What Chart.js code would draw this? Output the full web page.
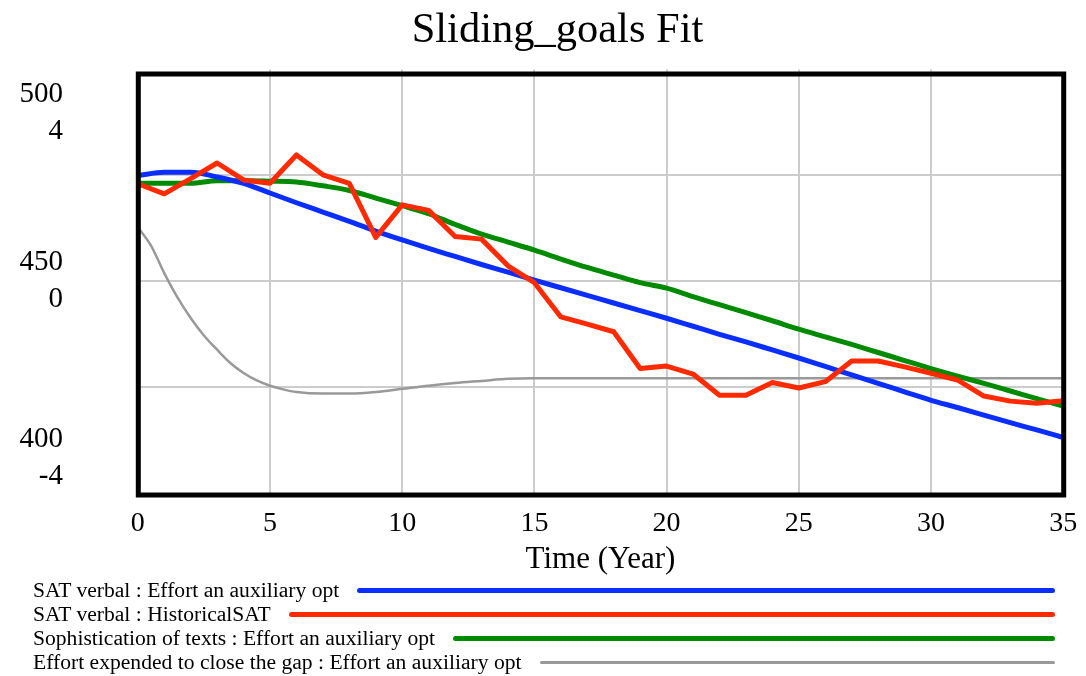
<!DOCTYPE html>
<html>
<head>
<meta charset="utf-8">
<title>Sliding_goals Fit</title>
<script src="https://cdn.jsdelivr.net/npm/chart.js@4/dist/chart.umd.min.js"></script>
<style>
  html, body { margin: 0; padding: 0; background: #ffffff; }
  body { width: 1086px; height: 676px; position: relative; overflow: hidden; }
  #wrap { position: absolute; left: 0; top: 0; width: 1086px; height: 580px; }
  #legend { position: absolute; left: 33px; top: 578px; width: 1022px; }
  .row { display: flex; align-items: center; height: 24px; font-family: "Liberation Serif", "Times New Roman", serif; font-size: 21.6px; color: #000; white-space: nowrap; }
  .row .swatch { flex: 1; margin-left: 18px; border-radius: 3px; }
</style>
</head>
<body>
<div id="wrap"><canvas id="chart" width="1086" height="580"></canvas></div>
<div id="legend"></div>
<script>
// Simulation time axis (years)
const years = [0, 1, 2, 3, 4, 5, 6, 7, 8, 9, 10, 11, 12, 13, 14, 15, 16, 17,
               18, 19, 20, 21, 22, 23, 24, 25, 26, 27, 28, 29, 30, 31, 32, 33, 34, 35];

// SAT verbal : Effort an auxiliary opt
const satVerbalEffort = [474.9, 475.7, 475.7, 474.6, 473.1, 470.8, 468.5, 466.3, 464.1, 461.8,
                         459.7, 457.7, 455.8, 453.9, 452.1, 450.2, 448.4, 446.6, 444.8, 443.0,
                         441.2, 439.3, 437.4, 435.6, 433.7, 431.8, 429.8, 427.8, 425.8, 423.8,
                         421.8, 420.1, 418.3, 416.5, 414.8, 413.0];

// SAT verbal : HistoricalSAT
const satVerbalHistorical = [473.0, 470.6, 474.2, 477.9, 473.9, 473.1, 479.8, 475.1, 473.1, 460.3,
                             468.0, 466.7, 460.5, 459.9, 453.6, 449.6, 441.5, 439.8, 438.0, 429.3,
                             429.9, 428.0, 423.0, 423.0, 426.0, 424.7, 426.2, 431.1, 431.1, 429.7,
                             428.2, 426.6, 422.8, 421.6, 421.1, 421.7];

// Sophistication of texts : Effort an auxiliary opt
const sophistication = [473.1, 473.1, 473.1, 473.7, 473.7, 473.6, 473.4, 472.5, 471.4, 469.6,
                        467.8, 465.9, 463.4, 461.1, 459.2, 457.3, 455.2, 453.2, 451.4, 449.6,
                        448.3, 446.3, 444.4, 442.5, 440.6, 438.6, 436.8, 435.0, 433.1, 431.2,
                        429.3, 427.5, 425.8, 424.0, 422.2, 420.4];

// Effort expended to close the gap : Effort an auxiliary opt (finer steps early on)
const effortTimes = [0, 0.5, 1, 1.5, 2, 2.5, 3, 3.5, 4, 4.5, 5, 5.5, 6, 7, 8, 9, 10, 11, 12, 13,
                     14, 15, 16, 17, 18, 19, 20, 21, 22, 23, 24, 25, 26, 27, 28, 29, 30, 31,
                     32, 33, 34, 35];
const effortGap = [1.02, 0.67, 0.15, -0.31, -0.70, -1.03, -1.30, -1.55, -1.74, -1.88, -1.98, -2.05,
                   -2.10, -2.13, -2.13, -2.10, -2.04, -1.98, -1.93, -1.89, -1.85, -1.84, -1.84,
                   -1.84, -1.84, -1.84, -1.84, -1.84, -1.84, -1.84, -1.84, -1.84, -1.84, -1.84,
                   -1.84, -1.84, -1.84, -1.84, -1.84, -1.84, -1.84, -1.84];

// Stacked left-axis labels: SAT scale over effort scale
const satTicks = [500, 450, 400];
const effortTicks = [4, 0, -4];

const seriesNames = [
  'SAT verbal : Effort an auxiliary opt',
  'SAT verbal : HistoricalSAT',
  'Sophistication of texts : Effort an auxiliary opt',
  'Effort expended to close the gap : Effort an auxiliary opt'
];

const BLUE = '#0a2eff', RED = '#ff2a00', GREEN = '#008a00', GRAY = '#999999', GRID = '#cccccc';
const SERIF = '"Liberation Serif", "Times New Roman", serif';

const pts = (xs, ys) => xs.map((x, i) => ({ x, y: ys[i] }));

// Inner grid lines only; the frame covers the outer ones
const innerGrid = (min, max) => (ctx) =>
  (ctx.tick && (ctx.tick.value === min || ctx.tick.value === max)) ? 'rgba(0,0,0,0)' : GRID;

// Frame and stacked dual-scale labels on the left
const framePlugin = {
  id: 'frame',
  afterDatasetsDraw(chart) {
    const { ctx, chartArea: a } = chart;
    ctx.save();
    ctx.strokeStyle = '#000';
    ctx.lineWidth = 5;
    ctx.strokeRect(a.left + 0.5, a.top + 4.5, a.right - a.left, a.bottom - a.top - 2);
    ctx.restore();
  },
  afterDraw(chart) {
    const { ctx, chartArea: a, scales } = chart;
    ctx.save();
    ctx.fillStyle = '#000';
    ctx.font = '29px ' + SERIF;
    ctx.textAlign = 'right';
    ctx.textBaseline = 'middle';
    satTicks.forEach((v, i) => {
      let c = scales.y.getPixelForValue(v);
      c = Math.min(Math.max(c, a.top + 43), a.bottom - 35);
      ctx.fillText(String(v), 63, c - 18.5);
      ctx.fillText(String(effortTicks[i]), 63, c + 18.5);
    });
    ctx.restore();
  }
};

new Chart(document.getElementById('chart'), {
  type: 'line',
  data: {
    datasets: [
      { label: seriesNames[3], data: pts(effortTimes, effortGap), yAxisID: 'y2',
        borderColor: GRAY, borderWidth: 2.5, cubicInterpolationMode: 'monotone', order: 4 },
      { label: seriesNames[2], data: pts(years, sophistication), yAxisID: 'y',
        borderColor: GREEN, borderWidth: 5, cubicInterpolationMode: 'monotone', order: 3 },
      { label: seriesNames[0], data: pts(years, satVerbalEffort), yAxisID: 'y',
        borderColor: BLUE, borderWidth: 5, cubicInterpolationMode: 'monotone', order: 2 },
      { label: seriesNames[1], data: pts(years, satVerbalHistorical), yAxisID: 'y',
        borderColor: RED, borderWidth: 5, order: 1 }
    ]
  },
  options: {
    responsive: false,
    animation: false,
    events: [],
    elements: { point: { radius: 0 }, line: { tension: 0, borderJoinStyle: 'round', borderCapStyle: 'round' } },
    layout: { padding: { left: 29, right: 0, top: 0, bottom: 0 } },
    plugins: {
      legend: { display: false },
      tooltip: { enabled: false },
      title: {
        display: true,
        text: 'Sliding_goals Fit',
        color: '#000',
        font: { family: SERIF, size: 42.5, weight: 'normal', lineHeight: 1.2 },
        padding: { top: 5, bottom: 13.5 }
      }
    },
    scales: {
      x: {
        type: 'linear', min: 0, max: 35,
        afterFit: (s) => { s.height = 87.5; s.paddingLeft = 0; s.paddingRight = 0; },
        ticks: { stepSize: 5, color: '#000', padding: 14, font: { family: SERIF, size: 28 } },
        grid: { color: innerGrid(0, 35), lineWidth: 2, drawTicks: false },
        border: { display: false },
        title: { display: true, text: 'Time (Year)', color: '#000', padding: { top: 0, bottom: 2 },
                 font: { family: SERIF, size: 31 } }
      },
      y: {
        position: 'left', min: 400, max: 500,
        afterFit: (s) => { s.width = 108.8; },
        ticks: { stepSize: 25, display: false },
        grid: { color: innerGrid(400, 500), lineWidth: 2, drawTicks: false },
        border: { display: false }
      },
      y2: {
        position: 'right', min: -4, max: 4, display: true,
        afterFit: (s) => { s.width = 22.8; },
        ticks: { display: false },
        grid: { display: false, drawTicks: false },
        border: { display: false }
      }
    }
  },
  plugins: [framePlugin]
});

// Legend rows below the plot
const legendColors = [BLUE, RED, GREEN, GRAY];
const legendWidths = [5, 5, 5, 3];
const legend = document.getElementById('legend');
seriesNames.forEach((name, i) => {
  const row = document.createElement('div');
  row.className = 'row';
  const label = document.createElement('span');
  label.textContent = name;
  const sw = document.createElement('div');
  sw.className = 'swatch';
  sw.style.height = legendWidths[i] + 'px';
  sw.style.background = legendColors[i];
  row.appendChild(label);
  row.appendChild(sw);
  legend.appendChild(row);
});
</script>
</body>
</html>
